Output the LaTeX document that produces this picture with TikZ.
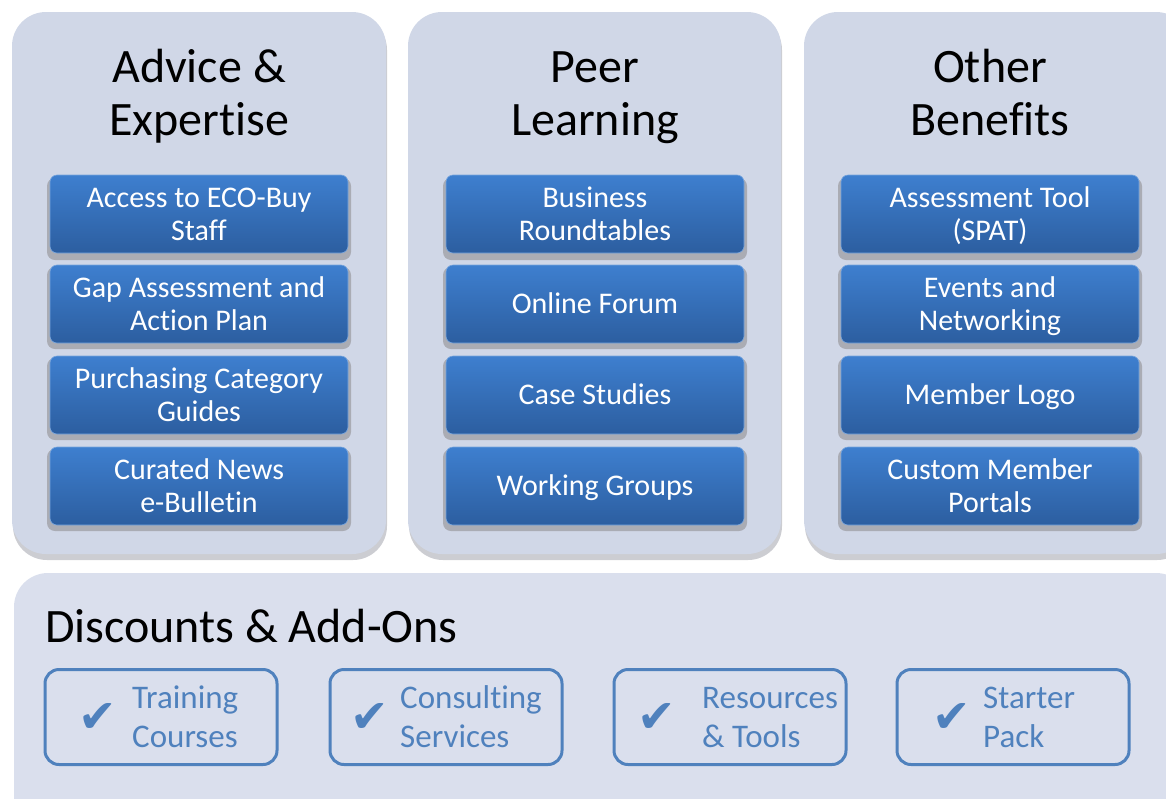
\documentclass[tikz,border=0pt]{standalone}
\usepackage{fontspec}
\setmainfont{Carlito}[Ligatures={NoCommon}]
\newfontfamily\symfont{DejaVu Sans}
\definecolor{panelfill}{RGB}{208,215,231}
\definecolor{bottomfill}{RGB}{218,223,237}
\definecolor{itemtop}{RGB}{62,127,207}
\definecolor{itembot}{RGB}{44,94,160}
\definecolor{addblue}{RGB}{79,129,189}
\definecolor{shadowgrey}{RGB}{170,172,180}
\tikzset{
  panel/.style={fill=panelfill, rounded corners=34pt, draw=none},
  panelshadow/.style={fill=shadowgrey!60, rounded corners=34pt, draw=none},
  itembox/.style={rounded corners=7pt, top color=itemtop, bottom color=itembot, draw=itemtop!70!white, line width=0.6pt,
    minimum width=298pt, minimum height=78pt, inner sep=0pt},
  itemtext/.style={text=white, align=center, font=\fontsize{30}{33}\selectfont, inner sep=0pt},
  itemshadow/.style={rounded corners=8pt, fill=shadowgrey, draw=none},
  titletext/.style={align=center, font=\fontsize{48}{53}\selectfont, text=black, inner sep=0pt},
  addbox/.style={rounded corners=14pt, draw=addblue, line width=3pt, fill=none,
    minimum width=232pt, minimum height=95pt},
  addtext/.style={anchor=west, align=left, text=addblue, font=\fontsize{33}{39}\selectfont, inner sep=0pt},
  checkmark/.style={text=addblue, font=\symfont\fontsize{46}{46}\selectfont, inner sep=0pt}
}
\begin{document}
\begin{tikzpicture}[x=1pt,y=-1pt]
\useasboundingbox (0,0) rectangle (1166,798);
% panels with shadows
\foreach \xa/\xb in {12/386, 408/781, 804/1190}{
  \fill[panelshadow] (\xa+1,16) rectangle (\xb+1,560);
  \fill[panel] (\xa,12) rectangle (\xb,554);
}
\fill[panelshadow] (15,576) rectangle (1190,830);
\fill[fill=bottomfill, rounded corners=34pt] (14,573) rectangle (1190,830);

% titles
\node[titletext] (t1) at (199,98) {Advice \&\strut\\Expertise\strut};
\node[titletext] (t2) at (595,98) {Peer\strut\\Learning\strut};
\node[titletext] (t3) at (990,98) {Other\strut\\Benefits\strut};

% item shadows
\foreach \cx in {199, 595, 990}{
  \foreach \cy in {216, 305, 396, 487}{
    \fill[itemshadow] (\cx-152,\cy-38) rectangle (\cx+152,\cy+44);
  }
}
\foreach \nm/\cx/\cy/\txt in {
  a1/199/214/{Access to ECO-Buy\strut\\Staff\strut},
  a2/199/304/{Gap Assessment and\strut\\Action Plan\strut},
  a3/199/395/{Purchasing Category\strut\\Guides\strut},
  a4/199/486/{Curated News\strut\\e-Bulletin\strut},
  b1/595/214/{Business\strut\\Roundtables\strut},
  b2/595/304/{Online Forum\strut},
  b3/595/395/{Case Studies\strut},
  b4/595/486/{Working Groups\strut},
  c1/990/214/{Assessment Tool\strut\\(SPAT)\strut},
  c2/990/304/{Events and\strut\\Networking\strut},
  c3/990/395/{Member Logo\strut},
  c4/990/486/{Custom Member\strut\\Portals\strut}}{
  \node[itembox] (\nm) at (\cx,\cy) {};
  \node[itemtext] (\nm t) at ([yshift=-3pt]\nm.center) {\txt};
}

% discounts
\node[anchor=west, inner sep=0pt, font=\fontsize{48}{53}\selectfont] (dtitle) at (45,632) {Discounts \& Add-Ons\strut};
\foreach \cx/\nm/\ck/\tx/\ta/\tb in {161/d1/98/132/Training/Courses, 446/d2/370/400/Consulting/Services, 730/d3/657/702/Resources/\& Tools, 1013/d4/952/983/Starter/Pack}{
  \node[addbox] (\nm) at (\cx,717) {};
  \node[checkmark] (\nm c) at (\ck,718) {✔};
  \node[addtext] (\nm t) at (\tx,720) {\ta\strut\\\tb\strut};
}
\end{tikzpicture}
\end{document}
